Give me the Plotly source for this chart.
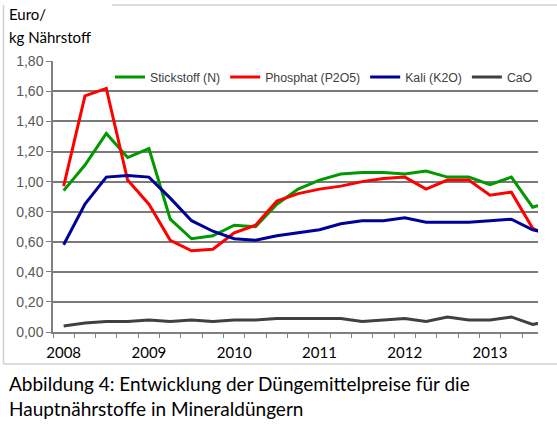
import plotly.graph_objects as go

# ---- data (quarterly prices, Euro per kg nutrient) ----
quarters = [f"{y}-Q{q}" for y in range(2008, 2014) for q in range(1, 5)]
stickstoff = [0.94, 1.11, 1.32, 1.16, 1.22, 0.75, 0.62, 0.64, 0.71, 0.70, 0.85, 0.95,
              1.01, 1.05, 1.06, 1.06, 1.05, 1.07, 1.03, 1.03, 0.98, 1.03, 0.83, 0.87]
phosphat = [0.97, 1.57, 1.62, 1.01, 0.85, 0.61, 0.54, 0.55, 0.66, 0.71, 0.87, 0.92,
            0.95, 0.97, 1.00, 1.02, 1.03, 0.95, 1.01, 1.01, 0.91, 0.93, 0.69, 0.62]
kali = [0.58, 0.85, 1.03, 1.04, 1.03, 0.89, 0.74, 0.67, 0.62, 0.61, 0.64, 0.66,
        0.68, 0.72, 0.74, 0.74, 0.76, 0.73, 0.73, 0.73, 0.74, 0.75, 0.68, 0.65]
cao = [0.04, 0.06, 0.07, 0.07, 0.08, 0.07, 0.08, 0.07, 0.08, 0.08, 0.09, 0.09,
       0.09, 0.09, 0.07, 0.08, 0.09, 0.07, 0.10, 0.08, 0.08, 0.10, 0.05, 0.08]
series_names = ["Stickstoff (N)", "Phosphat (P2O5)", "Kali (K2O)", "CaO"]
year_labels = ["2008", "2009", "2010", "2011", "2012", "2013"]
y_ticks = [0.0, 0.2, 0.4, 0.6, 0.8, 1.0, 1.2, 1.4, 1.6, 1.8]
y_title = ["Euro/", "kg Nährstoff"]
caption = "Abbildung 4: Entwicklung der Düngemittelpreise für die<br>Hauptnährstoffe in Mineraldüngern"

colors = ["#009900", "#ff0000", "#000099", "#404040"]

W, H = 557, 437
L, R, T, B = 53, 538, 61, 332


def px(xp):
    return (xp - L) / (R - L)


def py(yp):
    return (B - yp) / (B - T)


fig = go.Figure()
for name, vals, col in zip(series_names, [stickstoff, phosphat, kali, cao], colors):
    fig.add_trace(go.Scatter(x=quarters, y=vals, mode="lines", name=name,
                             line=dict(color=col, width=3)))

ticktext = [q[:4] if (q.endswith("Q1") and q[:4] in year_labels) else "" for q in quarters]

fig.update_layout(
    width=W, height=H,
    margin=dict(l=L, r=W - R, t=T, b=H - B),
    paper_bgcolor="white", plot_bgcolor="white",
    showlegend=True,
    legend=dict(orientation="h", x=1.0, xanchor="right", y=py(77), yanchor="middle",
                bgcolor="rgba(0,0,0,0)", font=dict(family="Liberation Sans", size=12.3, color="#404040"),
                itemwidth=30, tracegroupgap=0, traceorder="normal"),
    font=dict(family="Liberation Sans", size=12, color="#404040"),
)
fig.update_xaxes(type="category", range=[-0.5, 22.25], tickmode="array",
                 tickvals=quarters, ticktext=ticktext, tickson="boundaries", tickangle=0,
                 ticks="outside", ticklen=4, tickcolor="#808080", tickwidth=1,
                 ticklabelstandoff=6,
                 showline=True, linecolor="#808080", linewidth=1.5,
                 showgrid=False, zeroline=False,
                 tickfont=dict(family="Lato", size=15, color="#000000"))
fig.update_yaxes(range=[0, 1.802], tickmode="array", tickvals=y_ticks,
                 ticktext=[f"{v:.2f}".replace(".", ",") for v in y_ticks],
                 ticks="outside", ticklen=5, tickcolor="#808080",
                 showline=True, linecolor="#808080", linewidth=1.5,
                 showgrid=True, gridcolor="#7a7a7a", gridwidth=1.5, zeroline=False,
                 tickfont=dict(family="Liberation Sans", size=14, color="#595959"))

# frame lines
frame = "#d0d0d0"
fig.add_shape(type="line", xref="paper", yref="paper", x0=px(112), x1=px(557), y0=py(5), y1=py(5),
              line=dict(color=frame, width=1.5))
fig.add_shape(type="line", xref="paper", yref="paper", x0=px(3.5), x1=px(3.5), y0=py(5), y1=py(364),
              line=dict(color=frame, width=1.5))
fig.add_shape(type="line", xref="paper", yref="paper", x0=px(3.5), x1=px(557), y0=py(364), y1=py(364),
              line=dict(color=frame, width=1.5))

# y-axis title lines
fig.add_annotation(text=y_title[0], xref="paper", yref="paper", x=px(7), y=py(14),
                   xanchor="left", yanchor="middle", showarrow=False,
                   font=dict(family="Lato", size=15, color="#000000"))
fig.add_annotation(text=y_title[1], xref="paper", yref="paper", x=px(7), y=py(37),
                   xanchor="left", yanchor="middle", showarrow=False,
                   font=dict(family="Lato", size=15, color="#000000"))
# caption
fig.add_annotation(text=caption, xref="paper", yref="paper", x=px(7), y=py(396),
                   xanchor="left", yanchor="middle", align="left", showarrow=False,
                   font=dict(family="Lato", size=19, color="#000000"))

fig.write_html("out.html", config={"displayModeBar": False},
               post_script="document.body.style.margin='0';")
